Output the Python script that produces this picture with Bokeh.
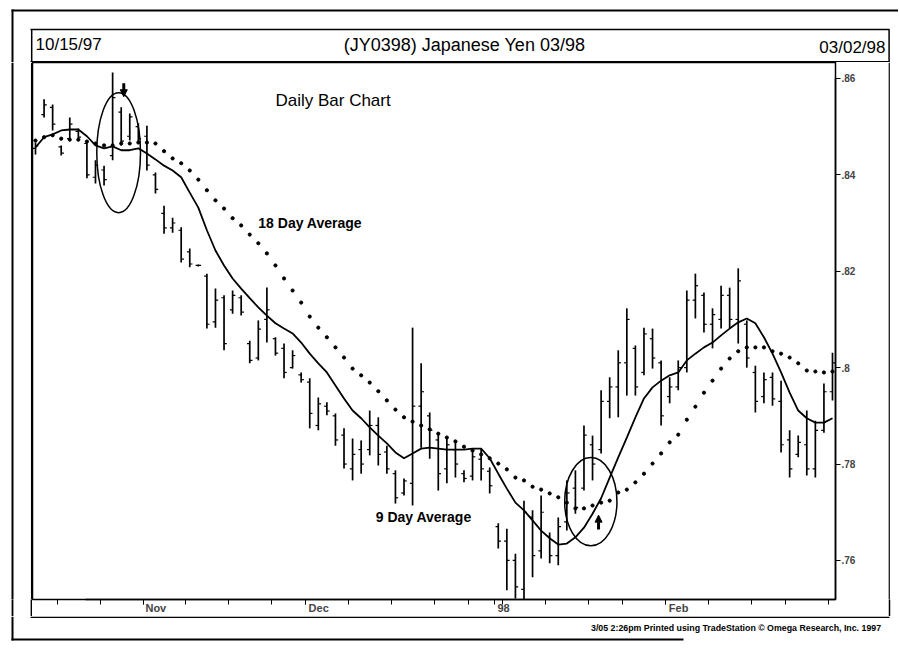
import pandas as pd
from bokeh.plotting import figure
from bokeh.layouts import column, row
from bokeh.models import (Range1d, LinearAxis, FixedTicker, Label,
                          ColumnDataSource, Arrow, NormalHead)
from bokeh.embed import file_html
from bokeh.resources import INLINE

# ---------------- data ----------------
holidays = ["1997-11-27", "1997-12-25", "1998-01-01", "1998-01-19", "1998-02-16"]
dates = pd.bdate_range("1997-10-15", "1998-03-02")
dates = dates[~dates.isin(pd.to_datetime(holidays))]

highs = [0.8467, 0.8557, 0.8546, 0.8461, 0.8519, 0.8496, 0.8471, 0.8430, 0.8419, 0.8612,
         0.8540, 0.8527, 0.8507, 0.8502, 0.8405, 0.8336, 0.8311, 0.8291, 0.8247, 0.8214,
         0.8195, 0.8164, 0.8150, 0.8160, 0.8150, 0.8056, 0.8098, 0.8166, 0.8063, 0.8050,
         0.8036, 0.7990, 0.7978, 0.7938, 0.7928, 0.7905, 0.7874, 0.7853, 0.7849, 0.7911,
         0.7897, 0.7838, 0.7787, 0.7770, 0.8083, 0.8009, 0.7907, 0.7863, 0.7853, 0.7845,
         0.7787, 0.7832, 0.7832, 0.7793, 0.7677, 0.7666, 0.7614, 0.7724, 0.7704, 0.7735,
         0.7658, 0.7689, 0.7766, 0.7787, 0.7880, 0.7859, 0.7953, 0.7980, 0.8036, 0.8123,
         0.8046, 0.8083, 0.8081, 0.8015, 0.7980, 0.8015, 0.8160, 0.8195, 0.8156, 0.8123,
         0.8170, 0.8166, 0.8206, 0.8098, 0.8004, 0.7990, 0.7990, 0.7973, 0.7870, 0.7859,
         0.7911, 0.7890, 0.7967, 0.8031]
lows = [0.8442, 0.8519, 0.8492, 0.8440, 0.8471, 0.8471, 0.8393, 0.8382, 0.8378, 0.8430,
        0.8461, 0.8471, 0.8465, 0.8409, 0.8361, 0.8278, 0.8280, 0.8218, 0.8208, 0.8210,
        0.8081, 0.8083, 0.8036, 0.8112, 0.8108, 0.8009, 0.8015, 0.8052, 0.8025, 0.7978,
        0.7998, 0.7969, 0.7874, 0.7870, 0.7901, 0.7838, 0.7791, 0.7766, 0.7780, 0.7818,
        0.7797, 0.7780, 0.7718, 0.7735, 0.7714, 0.7834, 0.7811, 0.7745, 0.7760, 0.7772,
        0.7762, 0.7766, 0.7766, 0.7739, 0.7625, 0.7538, 0.7521, 0.7510, 0.7565, 0.7604,
        0.7594, 0.7590, 0.7662, 0.7697, 0.7745, 0.7766, 0.7822, 0.7895, 0.7897, 0.7942,
        0.7942, 0.7984, 0.7998, 0.7880, 0.7926, 0.7953, 0.7990, 0.8102, 0.8073, 0.8040,
        0.8081, 0.8081, 0.8050, 0.8000, 0.7907, 0.7926, 0.7921, 0.7824, 0.7772, 0.7814,
        0.7776, 0.7772, 0.7865, 0.7932]
opens = [0.8455, 0.8525, 0.8540, 0.8458, 0.8475, 0.8490, 0.8465, 0.8395, 0.8410, 0.8440,
         0.8530, 0.8480, 0.8500, 0.8480, 0.8400, 0.8320, 0.8290, 0.8285, 0.8240, 0.8212,
         0.8190, 0.8095, 0.8145, 0.8120, 0.8145, 0.8050, 0.8020, 0.8100, 0.8060, 0.8040,
         0.8000, 0.7985, 0.7970, 0.7880, 0.7920, 0.7900, 0.7860, 0.7790, 0.7830, 0.7830,
         0.7880, 0.7825, 0.7780, 0.7740, 0.7760, 0.7920, 0.7900, 0.7850, 0.7790, 0.7830,
         0.7780, 0.7775, 0.7810, 0.7785, 0.7670, 0.7640, 0.7600, 0.7540, 0.7690, 0.7620,
         0.7650, 0.7610, 0.7680, 0.7750, 0.7750, 0.7840, 0.7830, 0.7930, 0.7960, 0.8010,
         0.8040, 0.7990, 0.8060, 0.8010, 0.7940, 0.7960, 0.8000, 0.8140, 0.8150, 0.8090,
         0.8100, 0.8150, 0.8100, 0.8090, 0.7990, 0.7940, 0.7980, 0.7930, 0.7850, 0.7820,
         0.7840, 0.7790, 0.7870, 0.7950]
closes = [0.8460, 0.8545, 0.8505, 0.8445, 0.8505, 0.8478, 0.8400, 0.8420, 0.8390, 0.8560,
          0.8470, 0.8520, 0.8475, 0.8420, 0.8370, 0.8290, 0.8300, 0.8225, 0.8215, 0.8212,
          0.8090, 0.8140, 0.8050, 0.8150, 0.8115, 0.8015, 0.8080, 0.8120, 0.8030, 0.7990,
          0.8025, 0.7975, 0.7905, 0.7925, 0.7910, 0.7850, 0.7800, 0.7820, 0.7800, 0.7880,
          0.7820, 0.7790, 0.7730, 0.7765, 0.7920, 0.7950, 0.7870, 0.7780, 0.7840, 0.7800,
          0.7770, 0.7815, 0.7790, 0.7755, 0.7640, 0.7600, 0.7545, 0.7700, 0.7610, 0.7700,
          0.7610, 0.7670, 0.7740, 0.7710, 0.7860, 0.7800, 0.7930, 0.7960, 0.8010, 0.8100,
          0.7960, 0.8070, 0.8020, 0.7900, 0.7960, 0.8000, 0.8140, 0.8170, 0.8090, 0.8110,
          0.8150, 0.8100, 0.8180, 0.8020, 0.7930, 0.7975, 0.7935, 0.7840, 0.7790, 0.7845,
          0.7790, 0.7870, 0.7950, 0.8010]
ma9 = [0.8457, 0.8478, 0.8484, 0.8492, 0.8494, 0.8494, 0.8480, 0.8461, 0.8455, 0.8459,
       0.8451, 0.8451, 0.8455, 0.8444, 0.8432, 0.8419, 0.8409, 0.8395, 0.8363, 0.8332,
       0.8285, 0.8243, 0.8212, 0.8185, 0.8164, 0.8144, 0.8125, 0.8108, 0.8092, 0.8081,
       0.8071, 0.8052, 0.8029, 0.8009, 0.7990, 0.7963, 0.7936, 0.7911, 0.7895, 0.7876,
       0.7859, 0.7843, 0.7824, 0.7812, 0.7822, 0.7832, 0.7834, 0.7832, 0.7830, 0.7830,
       0.7830, 0.7832, 0.7832, 0.7812, 0.7780, 0.7749, 0.7720, 0.7704, 0.7683, 0.7662,
       0.7646, 0.7633, 0.7635, 0.7648, 0.7668, 0.7697, 0.7729, 0.7772, 0.7814, 0.7855,
       0.7897, 0.7936, 0.7959, 0.7973, 0.7984, 0.7990, 0.8015, 0.8029, 0.8042, 0.8052,
       0.8067, 0.8081, 0.8094, 0.8102, 0.8092, 0.8063, 0.8029, 0.7990, 0.7948, 0.7911,
       0.7895, 0.7886, 0.7886, 0.7895]
ma18 = [0.8471, 0.8478, 0.8482, 0.8475, 0.8473, 0.8473, 0.8469, 0.8465, 0.8461, 0.8461,
        0.8465, 0.8465, 0.8467, 0.8467, 0.8465, 0.8449, 0.8434, 0.8424, 0.8409, 0.8390,
        0.8368, 0.8347, 0.8330, 0.8310, 0.8295, 0.8276, 0.8258, 0.8237, 0.8212, 0.8185,
        0.8160, 0.8135, 0.8106, 0.8083, 0.8063, 0.8042, 0.8021, 0.7998, 0.7984, 0.7969,
        0.7951, 0.7932, 0.7913, 0.7897, 0.7888, 0.7880, 0.7872, 0.7863, 0.7855, 0.7847,
        0.7836, 0.7828, 0.7820, 0.7812, 0.7801, 0.7789, 0.7772, 0.7766, 0.7753, 0.7747,
        0.7739, 0.7731, 0.7720, 0.7708, 0.7708, 0.7714, 0.7720, 0.7724, 0.7741, 0.7747,
        0.7762, 0.7780, 0.7801, 0.7822, 0.7845, 0.7861, 0.7892, 0.7919, 0.7948, 0.7973,
        0.7998, 0.8019, 0.8034, 0.8042, 0.8042, 0.8042, 0.8034, 0.8029, 0.8021, 0.8009,
        0.7994, 0.7992, 0.7990, 0.7992]

y_ticks = [0.76, 0.78, 0.80, 0.82, 0.84, 0.86]
y_labels = [".76", ".78", ".8", ".82", ".84", ".86"]
month_tick_labels = ["Nov", "Dec", "98", "Feb"]

FONT = "Liberation Sans"
W_TOTAL = 898
BAND = 17   # height of the date band under the price frame


def deco_fig(width, height, x0, x1, ytop, ybot, bottom=0):
    """Figure whose frame fills the canvas; ranges are window pixels (frames/header)."""
    f = figure(width=width, height=height, output_backend="svg", toolbar_location=None,
               x_range=Range1d(x0, x1), y_range=Range1d(ybot, ytop),
               x_axis_location=None, y_axis_location=None,
               min_border_left=0, min_border_right=0, min_border_top=0,
               min_border_bottom=bottom)
    for g in f.grid:
        g.visible = False
    f.outline_line_color = None
    f.background_fill_color = "white"
    f.border_fill_color = "white"
    return f


def band_ticks(f, xs, w=1.8):
    """Vertical strokes through the date band, drawn as axis ticks below the frame."""
    ax = LinearAxis(ticker=FixedTicker(ticks=[], minor_ticks=xs))
    ax.axis_line_color = None
    ax.major_tick_out = 0
    ax.major_tick_in = 0
    ax.minor_tick_in = 0
    ax.minor_tick_out = BAND
    ax.minor_tick_line_width = w
    ax.minor_tick_line_color = "black"
    ax.major_label_standoff = 0
    ax.major_label_text_font_size = "0px"
    f.add_layout(ax, "below")


def seg(f, x0, y0, x1, y1, w=1.5):
    f.segment(x0=[x0], y0=[y0], x1=[x1], y1=[y1], line_color="black", line_width=w)


def txt(f, x, y, text, size, align="left", style="normal"):
    f.add_layout(Label(x=x, y=y, text=text, text_font=FONT, text_font_size=size,
                       text_font_style=style, text_color="black",
                       text_align=align, text_baseline="middle"))


# ---------------- header strip (window y 0..62) ----------------
H = deco_fig(W_TOTAL, 62, 0, W_TOTAL, 0, 62)
seg(H, 11, 10, W_TOTAL, 10, 2)        # page frame top
seg(H, 12, 9, 12, 62, 2)              # page frame left
seg(H, 30, 29, 889, 29)               # chart box top
seg(H, 31.2, 29, 31.2, 62)            # chart box left
seg(H, 888.6, 29, 888.6, 62)          # chart box right
seg(H, 30, 61.2, 889, 61.2)           # header bottom line
txt(H, 35, 44, "10/15/97", "17px")
txt(H, 464, 44, "(JY0398) Japanese Yen 03/98", "18px", align="center")
txt(H, 885, 47, "03/02/98", "17px", align="right")

# ---------------- left strip (window x 0..32, y 62..616) ----------------
L = deco_fig(32, 554, 0, 32, 62, 599, bottom=BAND)
seg(L, 12, 62, 12, 599, 2)
seg(L, 31.2, 62, 31.2, 599)
band_ticks(L, [12.0, 31.2])

# ---------------- right strip (window x 888..898) ----------------
R = deco_fig(10, 554, 888, 898, 62, 599, bottom=BAND)
seg(R, 888.6, 62, 888.6, 599)
band_ticks(R, [888.6], w=1.5)

# ---------------- main chart (window x 32..888, y 62..616) ----------------
n = len(dates)
idx = list(range(n))
src = ColumnDataSource(dict(x=idx, xo=[i - 0.32 for i in idx], xc=[i + 0.32 for i in idx],
                            high=highs, low=lows, open=opens, close=closes,
                            ma9=ma9, ma18=ma18))

p = figure(width=856, height=554, output_backend="svg", toolbar_location=None,
           x_range=Range1d(-0.35, 93.35), y_range=Range1d(0.7519, 0.8633),
           x_axis_location=None, y_axis_location=None,
           min_border_left=0, min_border_right=53, min_border_top=0, min_border_bottom=BAND)
for g in p.grid:
    g.visible = False
p.outline_line_color = "black"
p.outline_line_width = 1.5
p.background_fill_color = "white"
p.border_fill_color = "white"

# price axis on the right (line continues down through the date band)
yax = LinearAxis(ticker=FixedTicker(ticks=y_ticks),
                 major_label_overrides={t: l for t, l in zip(y_ticks, y_labels)},
                 bounds=(0.7487, 0.8600))
yax.major_tick_in = 0
yax.major_tick_out = 5
yax.minor_tick_out = 0
yax.minor_tick_in = 0
yax.major_label_standoff = 1
yax.major_label_text_font = FONT
yax.major_label_text_font_size = "10px"
yax.major_label_text_font_style = "bold"
yax.axis_line_width = 1.5
p.add_layout(yax, "right")

# date axis: weekly ticks, month names just right of the month start
month_starts, week_ticks = [], []
for i in range(1, n):
    d, prev = dates[i], dates[i - 1]
    if d.month != prev.month and d.month in (11, 12, 1, 2):
        month_starts.append(i - 0.45)
    if d.weekday() < prev.weekday():
        week_ticks.append(i - 0.45)
label_pos = [m + (2 + 3.6 * len(t)) / 8.57 for m, t in zip(month_starts, month_tick_labels)]
xax = LinearAxis(ticker=FixedTicker(ticks=label_pos, minor_ticks=week_ticks + month_starts),
                 major_label_overrides={t: l for t, l in zip(label_pos, month_tick_labels)},
                 bounds=(5.8, 99.4))
xax.major_tick_in = 0
xax.major_tick_out = 0
xax.minor_tick_in = 0
xax.minor_tick_out = 5
xax.major_label_standoff = -3
xax.major_label_text_font = FONT
xax.major_label_text_font_size = "11px"
xax.major_label_text_font_style = "bold"
xax.axis_line_width = 1.5
p.add_layout(xax, "below")

# bars and averages
p.segment(x0="x", y0="low", x1="x", y1="high", source=src, line_color="black", line_width=1.7)
p.segment(x0="xo", y0="open", x1="x", y1="open", source=src, line_color="black", line_width=1.2)
p.segment(x0="x", y0="close", x1="xc", y1="close", source=src, line_color="black", line_width=1.2)
p.line(x="x", y="ma9", source=src, line_color="black", line_width=1.8)
p.scatter(x="x", y="ma18", source=src, marker="circle", size=3.2, color="black")

# circled areas and arrows
ell_x = [9.7, 64.8]
ell_y = [0.8446, 0.7722]
ell_w = [5.1, 6.1]
ell_h = [0.0249, 0.0183]
p.ellipse(x=ell_x, y=ell_y, width=ell_w, height=ell_h, fill_alpha=0,
          line_color="black", line_width=1.5)
p.add_layout(Arrow(end=NormalHead(size=7, fill_color="black", line_color="black"),
                   x_start=10.3, y_start=0.8590, x_end=10.3, y_end=0.8562,
                   line_color="black", line_width=3))
p.add_layout(Arrow(end=NormalHead(size=7, fill_color="black", line_color="black"),
                   x_start=65.7, y_start=0.7664, x_end=65.7, y_end=0.7694,
                   line_color="black", line_width=3))

txt(p, 28.0, 0.8554, "Daily Bar Chart", "17px")
txt(p, 26.0, 0.8301, "18 Day Average", "14px", style="bold")
txt(p, 39.7, 0.7691, "9 Day Average", "14px", style="bold")

# ---------------- footer strip (window y 616..648) ----------------
F = deco_fig(W_TOTAL, 32, 0, W_TOTAL, 616, 648)
seg(F, 30, 616.8, 889, 616.8)         # date band bottom
seg(F, 12, 616, 12, 640, 2)           # page frame left
seg(F, 11, 639, 683, 639, 2)          # page frame bottom
txt(F, 883, 627, "3/05  2:26pm Printed using TradeStation \u00a9 Omega Research, Inc. 1997",
    "8.8px", align="right", style="bold")

layout = column(H, row(L, p, R), F)
open("out.html", "w").write(file_html(layout, INLINE))
